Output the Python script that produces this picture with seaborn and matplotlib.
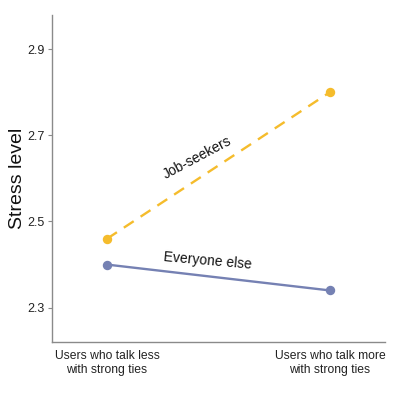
import matplotlib
matplotlib.use("Agg")
import matplotlib.pyplot as plt
import seaborn as sns
import pandas as pd

categories = ["Users who talk less\nwith strong ties", "Users who talk more\nwith strong ties"]
groups = ["Job-seekers", "Everyone else"]
job_seekers = [2.46, 2.80]
everyone_else = [2.40, 2.34]
yticks = [2.3, 2.5, 2.7, 2.9]

df = pd.DataFrame({
    "x": categories * 2,
    "stress": job_seekers + everyone_else,
    "group": [groups[0]] * 2 + [groups[1]] * 2,
})

sns.set_style("white")
plt.rcParams['font.family'] = ['Liberation Sans', 'DejaVu Sans']

fig = plt.figure(figsize=(4, 4), dpi=100)
ax = fig.add_axes([0.13, 0.145, 0.8325, 0.8175])

palette = {"Job-seekers": "#F5BC2C", "Everyone else": "#7581B3"}
sns.pointplot(data=df, x="x", y="stress", hue="group", order=categories,
              hue_order=groups, palette=palette, linestyles=["--", "-"],
              markers=["o", "o"], markersize=5.5, linewidth=1.7, ax=ax, legend=False)

for line in ax.lines:
    if line.get_linestyle() == "--":
        line.set_dashes([5, 3.5])

ax.set_xlim(-0.247, 1.247)
ax.set_ylim(2.2204, 2.979)
ax.set_yticks(yticks)
ax.set_yticklabels([f"{v:.1f}" for v in yticks])
ax.set_xlabel("")
ax.set_ylabel("Stress level", fontsize=14, color="#111111", labelpad=1)

for s in ["top", "right"]:
    ax.spines[s].set_visible(False)
for s in ["left", "bottom"]:
    ax.spines[s].set_color("#8a8a8a")
    ax.spines[s].set_linewidth(1.0)

ax.tick_params(axis="y", length=3, width=0.8, color="#8a8a8a", labelsize=9, labelcolor="#222222", pad=2, left=True)
ax.tick_params(axis="x", length=0, labelsize=8.7, labelcolor="#222222", pad=6)

ax.text(0.406, 2.647, groups[0], rotation=28, fontsize=10, ha="center", va="center", color="#111111", rotation_mode="anchor")
ax.text(0.453, 2.408, groups[1], rotation=-5, fontsize=10, ha="center", va="center", color="#111111", rotation_mode="anchor")

fig.savefig("out.png", dpi=100)
